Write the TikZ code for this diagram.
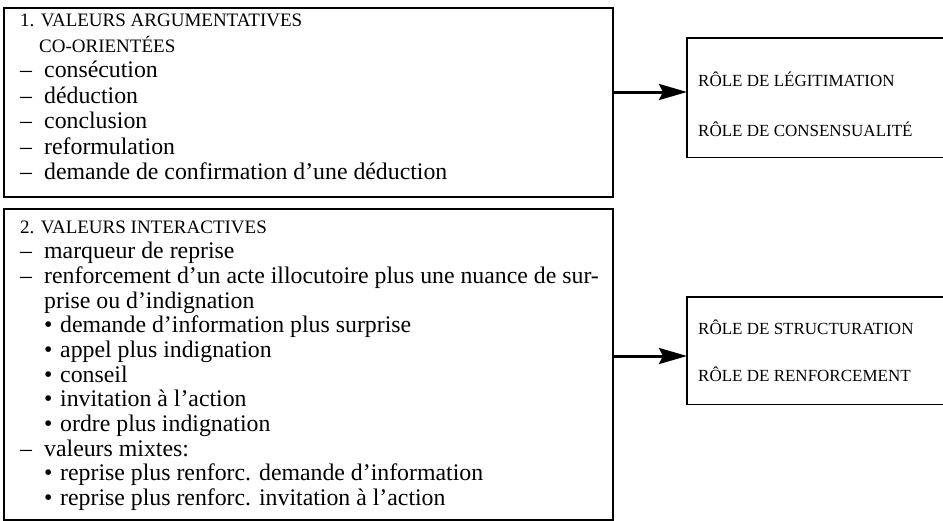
\documentclass[tikz,border=0pt]{standalone}
\usepackage{fontspec}
\setmainfont{Liberation Serif}
\usetikzlibrary{arrows.meta}
\newcommand\hdcaps{\fontsize{19}{25}\selectfont}
\newcommand\dsh{\makebox[24pt][l]{–}}
\newcommand\blt{\hspace*{24pt}\makebox[16pt][l]{•}}
\begin{document}
\begin{tikzpicture}[x=1pt,y=-1pt,
  frame/.style={draw=black,line width=1.5pt,inner sep=0pt,anchor=north west},
  openframe/.style={inner sep=0pt,anchor=north west},
  body/.style={anchor=north west,inner sep=0pt,align=left},
  role/.style={anchor=base west,inner sep=0pt,font=\fontsize{17}{20}\selectfont},
  link/.style={line width=3pt,-{Stealth[length=28pt,width=16pt,inset=4pt]}},
]
\useasboundingbox (0,0) rectangle (943,520);

% left-hand boxes
\node[frame,minimum width=609pt,minimum height=189pt] (b1) at (3,7) {};
\node[frame,minimum width=609pt,minimum height=311pt] (b2) at (3,208) {};

\node[body,font=\fontsize{23.8}{25.5}\selectfont] (t1) at (20,14.2) {%
{\hdcaps 1. VALEURS ARGUMENTATIVES}\\
\hspace*{19pt}{\hdcaps CO-ORIENTÉES}\\
\dsh consécution\\
\dsh déduction\\
\dsh conclusion\\
\dsh reformulation\\
\dsh demande de confirmation d’une déduction};

\node[body,font=\fontsize{23.8}{24.7}\selectfont] (t2) at (20,221.2) {%
{\hdcaps 2. VALEURS INTERACTIVES}\\
\dsh marqueur de reprise\\
\dsh renforcement d’un acte illocutoire plus une nuance de sur-\\
\hspace*{24pt}prise ou d’indignation\\
\blt demande d’information plus surprise\\
\blt appel plus indignation\\
\blt conseil\\
\blt invitation à l’action\\
\blt ordre plus indignation\\
\dsh valeurs mixtes:\\
\blt reprise plus renforc. demande d’information\\
\blt reprise plus renforc. invitation à l’action};

% right-hand boxes, open on the right
\node[openframe,minimum width=256pt,minimum height=119pt] (rA) at (687,38) {};
\node[openframe,minimum width=256pt,minimum height=107pt] (rB) at (687,297) {};
\draw[line width=1.5pt] (rA.north east) -- (rA.north west) -- (rA.south west) -- (rA.south east);
\draw[line width=1.5pt] (rB.north east) -- (rB.north west) -- (rB.south west) -- (rB.south east);

\node[role] (rA1) at (698,86) {RÔLE DE LÉGITIMATION};
\node[role] (rA2) at (698,136) {RÔLE DE CONSENSUALITÉ};
\node[role] (rB1) at (698,334) {RÔLE DE STRUCTURATION};
\node[role] (rB2) at (698,381) {RÔLE DE RENFORCEMENT};

% arrows from the left boxes to the role boxes
\coordinate (a1) at (612,92);
\coordinate (a2) at (612,356);
\draw[link] (a1) -- (a1 -| rA.west);
\draw[link] (a2) -- (a2 -| rB.west);
\end{tikzpicture}
\end{document}
